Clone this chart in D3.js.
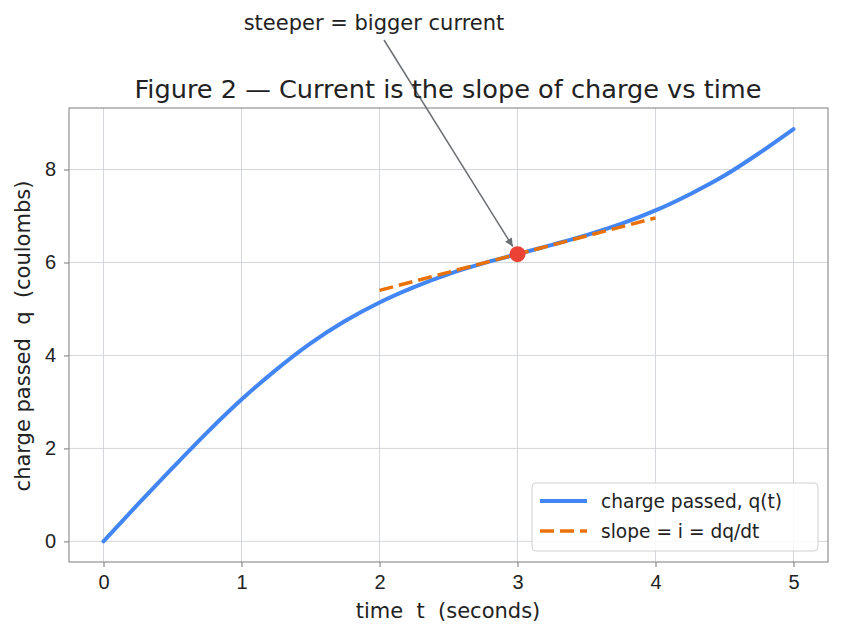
<!DOCTYPE html>
<html lang="en">
<head>
<meta charset="UTF-8">
<title>Figure 2</title>
<script src="https://d3js.org/d3.v7.min.js"></script>
<style>
  body { margin: 0; background: #fff; }
  svg { display: block; font-family: "DejaVu Sans", sans-serif; }
  .grid line { stroke: #d3d6da; stroke-width: 1; }
  .axis text { fill: #222; font-size: 20px; }
  .axis line { stroke: #777; }
  .axis path { display: none; }
  .label { fill: #222; font-size: 21px; white-space: pre; }
  .legend-text { fill: #222; font-size: 18.6px; }
</style>
</head>
<body>
<svg id="chart" width="842" height="637"></svg>
<script>
// time samples (s) and charge (C)
const times = [0, 0.25, 0.5, 0.75, 1, 1.25, 1.5, 1.75, 2, 2.25, 2.5, 2.75, 3, 3.25, 3.5, 3.75, 4, 4.25, 4.5, 4.75, 5];
const charge = [0, 0.80, 1.58, 2.34, 3.05, 3.69, 4.26, 4.74, 5.14, 5.47, 5.75, 5.98, 6.18, 6.38, 6.59, 6.83, 7.12, 7.47, 7.87, 8.35, 8.87];

// tangent at t = 3
const tangentT = [2, 4];
const tangentQ = [5.40, 6.96];
const pointT = 3, pointQ = 6.18;

const xTicks = [0, 1, 2, 3, 4, 5];
const yTicks = [0, 2, 4, 6, 8];

const seriesNames = ["charge passed, q(t)", "slope = i = dq/dt"];
const colors = { q: "#4285f4", slope: "#e8710a", dot: "#ea4335", arrow: "#6b6f73" };

const margin = { left: 69, right: 828, top: 108, bottom: 562 };

const svg = d3.select("#chart");
const x = d3.scaleLinear().domain([-0.25, 5.25]).range([margin.left, margin.right]);
const y = d3.scaleLinear().domain([-0.444, 9.324]).range([margin.bottom, margin.top]);

// grid
const grid = svg.append("g").attr("class", "grid");
grid.selectAll(".gx").data(xTicks).enter().append("line")
    .attr("x1", d => x(d)).attr("x2", d => x(d))
    .attr("y1", margin.top).attr("y2", margin.bottom);
grid.selectAll(".gy").data(yTicks).enter().append("line")
    .attr("y1", d => y(d)).attr("y2", d => y(d))
    .attr("x1", margin.left).attr("x2", margin.right);

// axes
svg.append("g").attr("class", "axis")
    .attr("transform", `translate(0,${margin.bottom})`)
    .call(d3.axisBottom(x).tickValues(xTicks).tickSize(5).tickPadding(8).tickFormat(d3.format("d")));
svg.append("g").attr("class", "axis")
    .attr("transform", `translate(${margin.left},0)`)
    .call(d3.axisLeft(y).tickValues(yTicks).tickSize(5).tickPadding(8).tickFormat(d3.format("d")));

// frame
svg.append("rect")
    .attr("x", margin.left).attr("y", margin.top)
    .attr("width", margin.right - margin.left).attr("height", margin.bottom - margin.top)
    .attr("fill", "none").attr("stroke", "#888").attr("stroke-width", 1.1);

// charge curve
const pts = times.map((t, i) => [t, charge[i]]);
const line = d3.line().x(d => x(d[0])).y(d => y(d[1])).curve(d3.curveCatmullRom);
svg.append("path").datum(pts)
    .attr("d", line)
    .attr("fill", "none").attr("stroke", colors.q).attr("stroke-width", 4).attr("stroke-linecap", "round");

// tangent
svg.append("path").datum(tangentT.map((t, i) => [t, tangentQ[i]]))
    .attr("d", d3.line().x(d => x(d[0])).y(d => y(d[1])))
    .attr("fill", "none").attr("stroke", colors.slope).attr("stroke-width", 3.5)
    .attr("stroke-dasharray", "14,6");

// point
svg.append("circle").attr("cx", x(pointT)).attr("cy", y(pointQ)).attr("r", 8).attr("fill", colors.dot);

// annotation
svg.append("defs").append("marker")
    .attr("id", "head").attr("viewBox", "0 0 10 10").attr("refX", 10).attr("refY", 5)
    .attr("markerWidth", 10).attr("markerHeight", 8).attr("markerUnits", "userSpaceOnUse")
    .attr("orient", "auto")
    .append("path").attr("d", "M0,0 L10,5 L0,10 Z").attr("fill", colors.arrow);

const ax0 = 384, ay0 = 40;
const dx = x(pointT) - ax0, dy = y(pointQ) - ay0;
const len = Math.hypot(dx, dy), shrink = 9;
svg.append("line")
    .attr("x1", ax0).attr("y1", ay0)
    .attr("x2", ax0 + dx * (len - shrink) / len).attr("y2", ay0 + dy * (len - shrink) / len)
    .attr("stroke", colors.arrow).attr("stroke-width", 1.5).attr("marker-end", "url(#head)");
svg.append("text").attr("class", "label")
    .attr("x", 374).attr("y", 30).attr("text-anchor", "middle")
    .text("steeper = bigger current");

// title and axis labels
svg.append("text").attr("x", 448).attr("y", 98).attr("text-anchor", "middle")
    .attr("fill", "#222").style("font-size", "25.6px")
    .text("Figure 2 \u2014 Current is the slope of charge vs time");
svg.append("text").attr("class", "label").attr("x", 448).attr("y", 618).attr("text-anchor", "middle")
    .text("time  t  (seconds)");
svg.append("text").attr("class", "label").attr("text-anchor", "middle")
    .attr("transform", "translate(30,336) rotate(-90)")
    .text("charge passed  q  (coulombs)");

// legend
const lg = svg.append("g").attr("transform", "translate(532,483)");
lg.append("rect").attr("width", 286).attr("height", 68).attr("rx", 4)
    .attr("fill", "#fff").attr("fill-opacity", 0.85).attr("stroke", "#d0d0d0");
lg.append("line").attr("x1", 8).attr("x2", 55).attr("y1", 18).attr("y2", 18)
    .attr("stroke", colors.q).attr("stroke-width", 4);
lg.append("line").attr("x1", 8).attr("x2", 55).attr("y1", 48).attr("y2", 48)
    .attr("stroke", colors.slope).attr("stroke-width", 3.5).attr("stroke-dasharray", "14,6");
lg.selectAll(".lt").data(seriesNames).enter().append("text").attr("class", "legend-text")
    .attr("x", 69).attr("y", (d, i) => 25 + i * 30).text(d => d);
</script>
</body>
</html>
